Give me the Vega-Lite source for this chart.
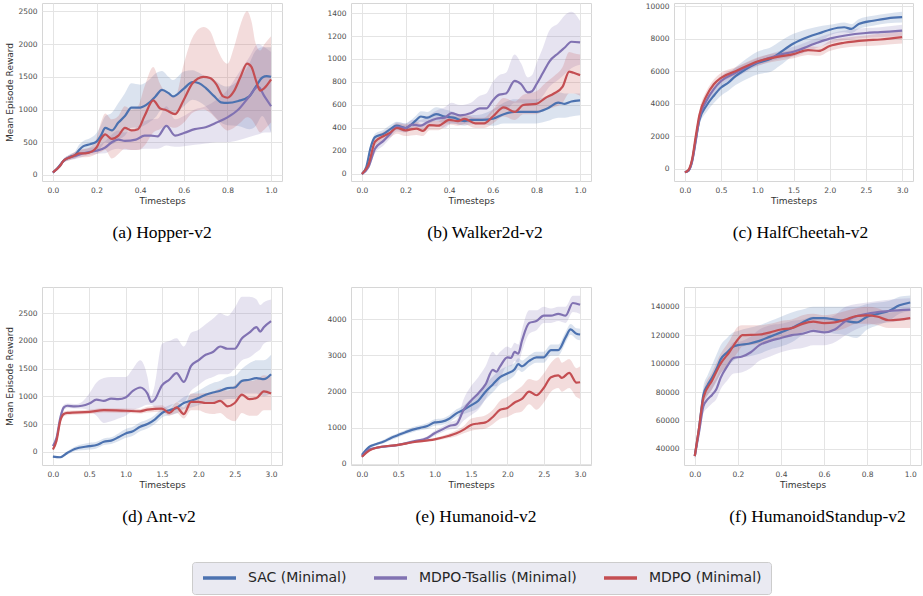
{
"$schema": "https://vega.github.io/schema/vega-lite/v6.json",
"padding": {"left": 5, "top": 1, "right": 0, "bottom": 0},
"datasets": {
"d": [
{"p":"a","a":"SAC (Minimal)","t":0.00,"m":35,"l":25,"h":45},
{"p":"a","a":"SAC (Minimal)","t":0.02,"m":100,"l":80,"h":120},
{"p":"a","a":"SAC (Minimal)","t":0.05,"m":220,"l":190,"h":250},
{"p":"a","a":"SAC (Minimal)","t":0.08,"m":280,"l":240,"h":320},
{"p":"a","a":"SAC (Minimal)","t":0.10,"m":300,"l":250,"h":350},
{"p":"a","a":"SAC (Minimal)","t":0.12,"m":380,"l":300,"h":460},
{"p":"a","a":"SAC (Minimal)","t":0.14,"m":440,"l":340,"h":520},
{"p":"a","a":"SAC (Minimal)","t":0.17,"m":470,"l":360,"h":560},
{"p":"a","a":"SAC (Minimal)","t":0.20,"m":510,"l":370,"h":640},
{"p":"a","a":"SAC (Minimal)","t":0.22,"m":600,"l":420,"h":760},
{"p":"a","a":"SAC (Minimal)","t":0.24,"m":720,"l":500,"h":900},
{"p":"a","a":"SAC (Minimal)","t":0.27,"m":680,"l":470,"h":950},
{"p":"a","a":"SAC (Minimal)","t":0.30,"m":800,"l":540,"h":1100},
{"p":"a","a":"SAC (Minimal)","t":0.33,"m":900,"l":600,"h":1250},
{"p":"a","a":"SAC (Minimal)","t":0.36,"m":1030,"l":720,"h":1400},
{"p":"a","a":"SAC (Minimal)","t":0.40,"m":1030,"l":730,"h":1380},
{"p":"a","a":"SAC (Minimal)","t":0.44,"m":1100,"l":800,"h":1450},
{"p":"a","a":"SAC (Minimal)","t":0.47,"m":1200,"l":880,"h":1550},
{"p":"a","a":"SAC (Minimal)","t":0.50,"m":1300,"l":1000,"h":1590},
{"p":"a","a":"SAC (Minimal)","t":0.53,"m":1250,"l":950,"h":1500},
{"p":"a","a":"SAC (Minimal)","t":0.55,"m":1200,"l":920,"h":1450},
{"p":"a","a":"SAC (Minimal)","t":0.60,"m":1320,"l":1050,"h":1580},
{"p":"a","a":"SAC (Minimal)","t":0.64,"m":1420,"l":1150,"h":1600},
{"p":"a","a":"SAC (Minimal)","t":0.67,"m":1400,"l":1120,"h":1560},
{"p":"a","a":"SAC (Minimal)","t":0.70,"m":1330,"l":1050,"h":1500},
{"p":"a","a":"SAC (Minimal)","t":0.74,"m":1200,"l":900,"h":1450},
{"p":"a","a":"SAC (Minimal)","t":0.77,"m":1110,"l":800,"h":1380},
{"p":"a","a":"SAC (Minimal)","t":0.80,"m":1100,"l":760,"h":1350},
{"p":"a","a":"SAC (Minimal)","t":0.85,"m":1130,"l":750,"h":1450},
{"p":"a","a":"SAC (Minimal)","t":0.90,"m":1200,"l":700,"h":1700},
{"p":"a","a":"SAC (Minimal)","t":0.93,"m":1350,"l":750,"h":1900},
{"p":"a","a":"SAC (Minimal)","t":0.96,"m":1490,"l":900,"h":1950},
{"p":"a","a":"SAC (Minimal)","t":0.98,"m":1510,"l":800,"h":1950},
{"p":"a","a":"SAC (Minimal)","t":1.00,"m":1500,"l":650,"h":1950},
{"p":"a","a":"MDPO-Tsallis (Minimal)","t":0.00,"m":40,"l":30,"h":50},
{"p":"a","a":"MDPO-Tsallis (Minimal)","t":0.03,"m":130,"l":110,"h":150},
{"p":"a","a":"MDPO-Tsallis (Minimal)","t":0.05,"m":220,"l":190,"h":250},
{"p":"a","a":"MDPO-Tsallis (Minimal)","t":0.08,"m":270,"l":230,"h":310},
{"p":"a","a":"MDPO-Tsallis (Minimal)","t":0.10,"m":290,"l":240,"h":340},
{"p":"a","a":"MDPO-Tsallis (Minimal)","t":0.15,"m":340,"l":290,"h":400},
{"p":"a","a":"MDPO-Tsallis (Minimal)","t":0.20,"m":370,"l":320,"h":440},
{"p":"a","a":"MDPO-Tsallis (Minimal)","t":0.24,"m":420,"l":330,"h":520},
{"p":"a","a":"MDPO-Tsallis (Minimal)","t":0.27,"m":500,"l":380,"h":620},
{"p":"a","a":"MDPO-Tsallis (Minimal)","t":0.30,"m":540,"l":400,"h":680},
{"p":"a","a":"MDPO-Tsallis (Minimal)","t":0.33,"m":520,"l":380,"h":650},
{"p":"a","a":"MDPO-Tsallis (Minimal)","t":0.38,"m":540,"l":380,"h":720},
{"p":"a","a":"MDPO-Tsallis (Minimal)","t":0.42,"m":600,"l":400,"h":820},
{"p":"a","a":"MDPO-Tsallis (Minimal)","t":0.45,"m":600,"l":400,"h":850},
{"p":"a","a":"MDPO-Tsallis (Minimal)","t":0.48,"m":590,"l":400,"h":860},
{"p":"a","a":"MDPO-Tsallis (Minimal)","t":0.52,"m":750,"l":450,"h":1050},
{"p":"a","a":"MDPO-Tsallis (Minimal)","t":0.56,"m":600,"l":430,"h":850},
{"p":"a","a":"MDPO-Tsallis (Minimal)","t":0.60,"m":640,"l":440,"h":900},
{"p":"a","a":"MDPO-Tsallis (Minimal)","t":0.65,"m":700,"l":460,"h":1000},
{"p":"a","a":"MDPO-Tsallis (Minimal)","t":0.70,"m":730,"l":480,"h":1050},
{"p":"a","a":"MDPO-Tsallis (Minimal)","t":0.75,"m":800,"l":500,"h":1150},
{"p":"a","a":"MDPO-Tsallis (Minimal)","t":0.80,"m":880,"l":500,"h":1300},
{"p":"a","a":"MDPO-Tsallis (Minimal)","t":0.85,"m":1000,"l":530,"h":1550},
{"p":"a","a":"MDPO-Tsallis (Minimal)","t":0.90,"m":1200,"l":580,"h":1800},
{"p":"a","a":"MDPO-Tsallis (Minimal)","t":0.94,"m":1350,"l":620,"h":2000},
{"p":"a","a":"MDPO-Tsallis (Minimal)","t":0.97,"m":1200,"l":650,"h":1950},
{"p":"a","a":"MDPO-Tsallis (Minimal)","t":1.00,"m":1050,"l":650,"h":1880},
{"p":"a","a":"MDPO (Minimal)","t":0.00,"m":40,"l":30,"h":50},
{"p":"a","a":"MDPO (Minimal)","t":0.03,"m":130,"l":110,"h":150},
{"p":"a","a":"MDPO (Minimal)","t":0.05,"m":220,"l":190,"h":250},
{"p":"a","a":"MDPO (Minimal)","t":0.08,"m":270,"l":230,"h":310},
{"p":"a","a":"MDPO (Minimal)","t":0.10,"m":300,"l":250,"h":350},
{"p":"a","a":"MDPO (Minimal)","t":0.12,"m":330,"l":270,"h":390},
{"p":"a","a":"MDPO (Minimal)","t":0.15,"m":330,"l":270,"h":400},
{"p":"a","a":"MDPO (Minimal)","t":0.18,"m":360,"l":290,"h":450},
{"p":"a","a":"MDPO (Minimal)","t":0.20,"m":420,"l":320,"h":560},
{"p":"a","a":"MDPO (Minimal)","t":0.22,"m":550,"l":350,"h":800},
{"p":"a","a":"MDPO (Minimal)","t":0.24,"m":620,"l":380,"h":940},
{"p":"a","a":"MDPO (Minimal)","t":0.27,"m":550,"l":250,"h":850},
{"p":"a","a":"MDPO (Minimal)","t":0.30,"m":600,"l":320,"h":900},
{"p":"a","a":"MDPO (Minimal)","t":0.33,"m":720,"l":400,"h":1050},
{"p":"a","a":"MDPO (Minimal)","t":0.36,"m":680,"l":380,"h":1000},
{"p":"a","a":"MDPO (Minimal)","t":0.39,"m":700,"l":380,"h":1050},
{"p":"a","a":"MDPO (Minimal)","t":0.42,"m":900,"l":450,"h":1350},
{"p":"a","a":"MDPO (Minimal)","t":0.46,"m":1140,"l":650,"h":1650},
{"p":"a","a":"MDPO (Minimal)","t":0.49,"m":1020,"l":700,"h":1400},
{"p":"a","a":"MDPO (Minimal)","t":0.52,"m":990,"l":750,"h":1250},
{"p":"a","a":"MDPO (Minimal)","t":0.56,"m":930,"l":720,"h":1200},
{"p":"a","a":"MDPO (Minimal)","t":0.60,"m":1150,"l":800,"h":1700},
{"p":"a","a":"MDPO (Minimal)","t":0.64,"m":1400,"l":950,"h":2100},
{"p":"a","a":"MDPO (Minimal)","t":0.69,"m":1500,"l":1000,"h":2260},
{"p":"a","a":"MDPO (Minimal)","t":0.72,"m":1480,"l":950,"h":2200},
{"p":"a","a":"MDPO (Minimal)","t":0.75,"m":1380,"l":850,"h":1950},
{"p":"a","a":"MDPO (Minimal)","t":0.78,"m":1200,"l":720,"h":1750},
{"p":"a","a":"MDPO (Minimal)","t":0.80,"m":1180,"l":680,"h":1700},
{"p":"a","a":"MDPO (Minimal)","t":0.83,"m":1280,"l":720,"h":1950},
{"p":"a","a":"MDPO (Minimal)","t":0.86,"m":1500,"l":800,"h":2300},
{"p":"a","a":"MDPO (Minimal)","t":0.89,"m":1700,"l":880,"h":2500},
{"p":"a","a":"MDPO (Minimal)","t":0.91,"m":1650,"l":850,"h":2350},
{"p":"a","a":"MDPO (Minimal)","t":0.93,"m":1450,"l":750,"h":2000},
{"p":"a","a":"MDPO (Minimal)","t":0.95,"m":1290,"l":650,"h":1900},
{"p":"a","a":"MDPO (Minimal)","t":0.97,"m":1330,"l":700,"h":2000},
{"p":"a","a":"MDPO (Minimal)","t":1.00,"m":1460,"l":800,"h":2120},
{"p":"b","a":"SAC (Minimal)","t":0.00,"m":0,"l":-5,"h":5},
{"p":"b","a":"SAC (Minimal)","t":0.02,"m":60,"l":45,"h":75},
{"p":"b","a":"SAC (Minimal)","t":0.04,"m":230,"l":200,"h":260},
{"p":"b","a":"SAC (Minimal)","t":0.06,"m":320,"l":290,"h":350},
{"p":"b","a":"SAC (Minimal)","t":0.10,"m":350,"l":320,"h":385},
{"p":"b","a":"SAC (Minimal)","t":0.13,"m":390,"l":355,"h":425},
{"p":"b","a":"SAC (Minimal)","t":0.16,"m":420,"l":385,"h":455},
{"p":"b","a":"SAC (Minimal)","t":0.20,"m":400,"l":365,"h":440},
{"p":"b","a":"SAC (Minimal)","t":0.22,"m":420,"l":385,"h":460},
{"p":"b","a":"SAC (Minimal)","t":0.25,"m":470,"l":430,"h":510},
{"p":"b","a":"SAC (Minimal)","t":0.27,"m":500,"l":455,"h":545},
{"p":"b","a":"SAC (Minimal)","t":0.30,"m":490,"l":440,"h":540},
{"p":"b","a":"SAC (Minimal)","t":0.34,"m":520,"l":460,"h":580},
{"p":"b","a":"SAC (Minimal)","t":0.38,"m":500,"l":440,"h":560},
{"p":"b","a":"SAC (Minimal)","t":0.42,"m":490,"l":440,"h":540},
{"p":"b","a":"SAC (Minimal)","t":0.47,"m":460,"l":420,"h":500},
{"p":"b","a":"SAC (Minimal)","t":0.50,"m":470,"l":430,"h":510},
{"p":"b","a":"SAC (Minimal)","t":0.55,"m":470,"l":430,"h":520},
{"p":"b","a":"SAC (Minimal)","t":0.60,"m":480,"l":420,"h":560},
{"p":"b","a":"SAC (Minimal)","t":0.65,"m":520,"l":440,"h":620},
{"p":"b","a":"SAC (Minimal)","t":0.70,"m":540,"l":440,"h":650},
{"p":"b","a":"SAC (Minimal)","t":0.75,"m":540,"l":440,"h":650},
{"p":"b","a":"SAC (Minimal)","t":0.80,"m":540,"l":440,"h":650},
{"p":"b","a":"SAC (Minimal)","t":0.85,"m":570,"l":460,"h":680},
{"p":"b","a":"SAC (Minimal)","t":0.90,"m":620,"l":490,"h":710},
{"p":"b","a":"SAC (Minimal)","t":0.93,"m":610,"l":490,"h":700},
{"p":"b","a":"SAC (Minimal)","t":0.96,"m":630,"l":500,"h":700},
{"p":"b","a":"SAC (Minimal)","t":1.00,"m":640,"l":510,"h":700},
{"p":"b","a":"MDPO-Tsallis (Minimal)","t":0.00,"m":0,"l":-5,"h":5},
{"p":"b","a":"MDPO-Tsallis (Minimal)","t":0.03,"m":60,"l":40,"h":80},
{"p":"b","a":"MDPO-Tsallis (Minimal)","t":0.06,"m":220,"l":180,"h":260},
{"p":"b","a":"MDPO-Tsallis (Minimal)","t":0.10,"m":290,"l":250,"h":330},
{"p":"b","a":"MDPO-Tsallis (Minimal)","t":0.13,"m":350,"l":310,"h":390},
{"p":"b","a":"MDPO-Tsallis (Minimal)","t":0.16,"m":410,"l":370,"h":450},
{"p":"b","a":"MDPO-Tsallis (Minimal)","t":0.20,"m":400,"l":360,"h":440},
{"p":"b","a":"MDPO-Tsallis (Minimal)","t":0.23,"m":430,"l":390,"h":470},
{"p":"b","a":"MDPO-Tsallis (Minimal)","t":0.27,"m":420,"l":380,"h":470},
{"p":"b","a":"MDPO-Tsallis (Minimal)","t":0.30,"m":450,"l":400,"h":500},
{"p":"b","a":"MDPO-Tsallis (Minimal)","t":0.34,"m":480,"l":420,"h":550},
{"p":"b","a":"MDPO-Tsallis (Minimal)","t":0.38,"m":490,"l":400,"h":580},
{"p":"b","a":"MDPO-Tsallis (Minimal)","t":0.41,"m":530,"l":440,"h":620},
{"p":"b","a":"MDPO-Tsallis (Minimal)","t":0.45,"m":510,"l":430,"h":600},
{"p":"b","a":"MDPO-Tsallis (Minimal)","t":0.50,"m":530,"l":450,"h":620},
{"p":"b","a":"MDPO-Tsallis (Minimal)","t":0.54,"m":570,"l":480,"h":680},
{"p":"b","a":"MDPO-Tsallis (Minimal)","t":0.57,"m":570,"l":470,"h":700},
{"p":"b","a":"MDPO-Tsallis (Minimal)","t":0.60,"m":640,"l":540,"h":800},
{"p":"b","a":"MDPO-Tsallis (Minimal)","t":0.63,"m":690,"l":560,"h":860},
{"p":"b","a":"MDPO-Tsallis (Minimal)","t":0.66,"m":700,"l":560,"h":880},
{"p":"b","a":"MDPO-Tsallis (Minimal)","t":0.70,"m":810,"l":620,"h":1040},
{"p":"b","a":"MDPO-Tsallis (Minimal)","t":0.73,"m":780,"l":620,"h":960},
{"p":"b","a":"MDPO-Tsallis (Minimal)","t":0.76,"m":710,"l":590,"h":840},
{"p":"b","a":"MDPO-Tsallis (Minimal)","t":0.78,"m":720,"l":600,"h":860},
{"p":"b","a":"MDPO-Tsallis (Minimal)","t":0.80,"m":780,"l":620,"h":960},
{"p":"b","a":"MDPO-Tsallis (Minimal)","t":0.83,"m":880,"l":680,"h":1100},
{"p":"b","a":"MDPO-Tsallis (Minimal)","t":0.86,"m":980,"l":760,"h":1250},
{"p":"b","a":"MDPO-Tsallis (Minimal)","t":0.90,"m":1050,"l":820,"h":1310},
{"p":"b","a":"MDPO-Tsallis (Minimal)","t":0.93,"m":1100,"l":870,"h":1380},
{"p":"b","a":"MDPO-Tsallis (Minimal)","t":0.96,"m":1150,"l":920,"h":1410},
{"p":"b","a":"MDPO-Tsallis (Minimal)","t":1.00,"m":1145,"l":950,"h":1330},
{"p":"b","a":"MDPO (Minimal)","t":0.00,"m":0,"l":-5,"h":5},
{"p":"b","a":"MDPO (Minimal)","t":0.03,"m":80,"l":60,"h":100},
{"p":"b","a":"MDPO (Minimal)","t":0.06,"m":280,"l":250,"h":310},
{"p":"b","a":"MDPO (Minimal)","t":0.10,"m":330,"l":290,"h":370},
{"p":"b","a":"MDPO (Minimal)","t":0.13,"m":360,"l":320,"h":400},
{"p":"b","a":"MDPO (Minimal)","t":0.16,"m":400,"l":350,"h":440},
{"p":"b","a":"MDPO (Minimal)","t":0.20,"m":380,"l":330,"h":430},
{"p":"b","a":"MDPO (Minimal)","t":0.25,"m":395,"l":340,"h":450},
{"p":"b","a":"MDPO (Minimal)","t":0.28,"m":375,"l":330,"h":430},
{"p":"b","a":"MDPO (Minimal)","t":0.31,"m":425,"l":380,"h":470},
{"p":"b","a":"MDPO (Minimal)","t":0.35,"m":420,"l":380,"h":460},
{"p":"b","a":"MDPO (Minimal)","t":0.40,"m":470,"l":430,"h":510},
{"p":"b","a":"MDPO (Minimal)","t":0.44,"m":460,"l":420,"h":500},
{"p":"b","a":"MDPO (Minimal)","t":0.47,"m":480,"l":430,"h":520},
{"p":"b","a":"MDPO (Minimal)","t":0.52,"m":440,"l":400,"h":490},
{"p":"b","a":"MDPO (Minimal)","t":0.56,"m":440,"l":400,"h":490},
{"p":"b","a":"MDPO (Minimal)","t":0.60,"m":500,"l":440,"h":560},
{"p":"b","a":"MDPO (Minimal)","t":0.65,"m":580,"l":500,"h":660},
{"p":"b","a":"MDPO (Minimal)","t":0.70,"m":540,"l":470,"h":630},
{"p":"b","a":"MDPO (Minimal)","t":0.74,"m":600,"l":520,"h":690},
{"p":"b","a":"MDPO (Minimal)","t":0.80,"m":610,"l":520,"h":720},
{"p":"b","a":"MDPO (Minimal)","t":0.84,"m":660,"l":560,"h":790},
{"p":"b","a":"MDPO (Minimal)","t":0.88,"m":700,"l":580,"h":850},
{"p":"b","a":"MDPO (Minimal)","t":0.92,"m":760,"l":620,"h":930},
{"p":"b","a":"MDPO (Minimal)","t":0.95,"m":890,"l":700,"h":1060},
{"p":"b","a":"MDPO (Minimal)","t":0.97,"m":880,"l":700,"h":1050},
{"p":"b","a":"MDPO (Minimal)","t":1.00,"m":860,"l":680,"h":1040},
{"p":"c","a":"SAC (Minimal)","t":0.00,"m":-200,"l":-250,"h":-150},
{"p":"c","a":"SAC (Minimal)","t":0.05,"m":-100,"l":-180,"h":-20},
{"p":"c","a":"SAC (Minimal)","t":0.10,"m":500,"l":300,"h":700},
{"p":"c","a":"SAC (Minimal)","t":0.15,"m":1800,"l":1500,"h":2100},
{"p":"c","a":"SAC (Minimal)","t":0.20,"m":3000,"l":2700,"h":3300},
{"p":"c","a":"SAC (Minimal)","t":0.30,"m":3900,"l":3500,"h":4300},
{"p":"c","a":"SAC (Minimal)","t":0.40,"m":4500,"l":4050,"h":4950},
{"p":"c","a":"SAC (Minimal)","t":0.50,"m":5000,"l":4500,"h":5500},
{"p":"c","a":"SAC (Minimal)","t":0.60,"m":5300,"l":4800,"h":5800},
{"p":"c","a":"SAC (Minimal)","t":0.70,"m":5700,"l":5150,"h":6250},
{"p":"c","a":"SAC (Minimal)","t":0.80,"m":6000,"l":5400,"h":6600},
{"p":"c","a":"SAC (Minimal)","t":1.00,"m":6500,"l":5800,"h":7200},
{"p":"c","a":"SAC (Minimal)","t":1.20,"m":6800,"l":6000,"h":7500},
{"p":"c","a":"SAC (Minimal)","t":1.30,"m":7100,"l":6300,"h":7800},
{"p":"c","a":"SAC (Minimal)","t":1.50,"m":7700,"l":7000,"h":8300},
{"p":"c","a":"SAC (Minimal)","t":1.70,"m":8100,"l":7500,"h":8600},
{"p":"c","a":"SAC (Minimal)","t":1.90,"m":8400,"l":7900,"h":8800},
{"p":"c","a":"SAC (Minimal)","t":2.00,"m":8550,"l":8200,"h":8850},
{"p":"c","a":"SAC (Minimal)","t":2.20,"m":8700,"l":8400,"h":9000},
{"p":"c","a":"SAC (Minimal)","t":2.30,"m":8600,"l":8350,"h":8900},
{"p":"c","a":"SAC (Minimal)","t":2.40,"m":8900,"l":8600,"h":9200},
{"p":"c","a":"SAC (Minimal)","t":2.60,"m":9100,"l":8800,"h":9400},
{"p":"c","a":"SAC (Minimal)","t":2.80,"m":9250,"l":8950,"h":9550},
{"p":"c","a":"SAC (Minimal)","t":3.00,"m":9320,"l":9000,"h":9650},
{"p":"c","a":"MDPO-Tsallis (Minimal)","t":0.00,"m":-200,"l":-250,"h":-150},
{"p":"c","a":"MDPO-Tsallis (Minimal)","t":0.05,"m":-100,"l":-180,"h":-20},
{"p":"c","a":"MDPO-Tsallis (Minimal)","t":0.10,"m":450,"l":250,"h":650},
{"p":"c","a":"MDPO-Tsallis (Minimal)","t":0.15,"m":1700,"l":1400,"h":2000},
{"p":"c","a":"MDPO-Tsallis (Minimal)","t":0.20,"m":3100,"l":2800,"h":3400},
{"p":"c","a":"MDPO-Tsallis (Minimal)","t":0.30,"m":4200,"l":3900,"h":4500},
{"p":"c","a":"MDPO-Tsallis (Minimal)","t":0.40,"m":4900,"l":4600,"h":5200},
{"p":"c","a":"MDPO-Tsallis (Minimal)","t":0.50,"m":5400,"l":5100,"h":5700},
{"p":"c","a":"MDPO-Tsallis (Minimal)","t":0.70,"m":5900,"l":5600,"h":6200},
{"p":"c","a":"MDPO-Tsallis (Minimal)","t":1.00,"m":6550,"l":6300,"h":6800},
{"p":"c","a":"MDPO-Tsallis (Minimal)","t":1.30,"m":7000,"l":6750,"h":7250},
{"p":"c","a":"MDPO-Tsallis (Minimal)","t":1.50,"m":7200,"l":6900,"h":7500},
{"p":"c","a":"MDPO-Tsallis (Minimal)","t":1.80,"m":7700,"l":7400,"h":8000},
{"p":"c","a":"MDPO-Tsallis (Minimal)","t":2.00,"m":8000,"l":7700,"h":8300},
{"p":"c","a":"MDPO-Tsallis (Minimal)","t":2.50,"m":8350,"l":8050,"h":8650},
{"p":"c","a":"MDPO-Tsallis (Minimal)","t":2.70,"m":8400,"l":8100,"h":8700},
{"p":"c","a":"MDPO-Tsallis (Minimal)","t":3.00,"m":8500,"l":8150,"h":8850},
{"p":"c","a":"MDPO (Minimal)","t":0.00,"m":-200,"l":-250,"h":-150},
{"p":"c","a":"MDPO (Minimal)","t":0.05,"m":-50,"l":-120,"h":20},
{"p":"c","a":"MDPO (Minimal)","t":0.10,"m":600,"l":400,"h":800},
{"p":"c","a":"MDPO (Minimal)","t":0.15,"m":2000,"l":1700,"h":2300},
{"p":"c","a":"MDPO (Minimal)","t":0.20,"m":3300,"l":3000,"h":3600},
{"p":"c","a":"MDPO (Minimal)","t":0.30,"m":4500,"l":4200,"h":4800},
{"p":"c","a":"MDPO (Minimal)","t":0.40,"m":5200,"l":4900,"h":5500},
{"p":"c","a":"MDPO (Minimal)","t":0.50,"m":5600,"l":5300,"h":5900},
{"p":"c","a":"MDPO (Minimal)","t":0.70,"m":6000,"l":5750,"h":6250},
{"p":"c","a":"MDPO (Minimal)","t":1.00,"m":6600,"l":6350,"h":6850},
{"p":"c","a":"MDPO (Minimal)","t":1.30,"m":6900,"l":6650,"h":7150},
{"p":"c","a":"MDPO (Minimal)","t":1.50,"m":7050,"l":6800,"h":7300},
{"p":"c","a":"MDPO (Minimal)","t":1.70,"m":7300,"l":7000,"h":7550},
{"p":"c","a":"MDPO (Minimal)","t":1.85,"m":7250,"l":6950,"h":7500},
{"p":"c","a":"MDPO (Minimal)","t":2.00,"m":7550,"l":7250,"h":7850},
{"p":"c","a":"MDPO (Minimal)","t":2.20,"m":7750,"l":7450,"h":8050},
{"p":"c","a":"MDPO (Minimal)","t":2.50,"m":7900,"l":7550,"h":8200},
{"p":"c","a":"MDPO (Minimal)","t":2.70,"m":7950,"l":7600,"h":8300},
{"p":"c","a":"MDPO (Minimal)","t":3.00,"m":8100,"l":7700,"h":8450},
{"p":"d","a":"SAC (Minimal)","t":0.0,"m":-90,"l":-110,"h":-70},
{"p":"d","a":"SAC (Minimal)","t":0.1,"m":-100,"l":-120,"h":-80},
{"p":"d","a":"SAC (Minimal)","t":0.2,"m":-20,"l":-50,"h":10},
{"p":"d","a":"SAC (Minimal)","t":0.3,"m":50,"l":10,"h":90},
{"p":"d","a":"SAC (Minimal)","t":0.5,"m":100,"l":40,"h":160},
{"p":"d","a":"SAC (Minimal)","t":0.6,"m":120,"l":60,"h":180},
{"p":"d","a":"SAC (Minimal)","t":0.7,"m":180,"l":120,"h":240},
{"p":"d","a":"SAC (Minimal)","t":0.8,"m":200,"l":140,"h":260},
{"p":"d","a":"SAC (Minimal)","t":0.9,"m":260,"l":190,"h":330},
{"p":"d","a":"SAC (Minimal)","t":1.0,"m":330,"l":250,"h":410},
{"p":"d","a":"SAC (Minimal)","t":1.1,"m":370,"l":290,"h":450},
{"p":"d","a":"SAC (Minimal)","t":1.2,"m":450,"l":370,"h":530},
{"p":"d","a":"SAC (Minimal)","t":1.3,"m":500,"l":420,"h":580},
{"p":"d","a":"SAC (Minimal)","t":1.4,"m":580,"l":500,"h":660},
{"p":"d","a":"SAC (Minimal)","t":1.5,"m":700,"l":620,"h":780},
{"p":"d","a":"SAC (Minimal)","t":1.6,"m":750,"l":660,"h":840},
{"p":"d","a":"SAC (Minimal)","t":1.7,"m":790,"l":690,"h":890},
{"p":"d","a":"SAC (Minimal)","t":1.8,"m":880,"l":770,"h":990},
{"p":"d","a":"SAC (Minimal)","t":1.9,"m":920,"l":800,"h":1040},
{"p":"d","a":"SAC (Minimal)","t":2.0,"m":970,"l":840,"h":1100},
{"p":"d","a":"SAC (Minimal)","t":2.1,"m":1030,"l":880,"h":1180},
{"p":"d","a":"SAC (Minimal)","t":2.2,"m":1070,"l":900,"h":1240},
{"p":"d","a":"SAC (Minimal)","t":2.3,"m":1100,"l":920,"h":1280},
{"p":"d","a":"SAC (Minimal)","t":2.4,"m":1150,"l":950,"h":1350},
{"p":"d","a":"SAC (Minimal)","t":2.5,"m":1160,"l":950,"h":1370},
{"p":"d","a":"SAC (Minimal)","t":2.6,"m":1280,"l":1050,"h":1500},
{"p":"d","a":"SAC (Minimal)","t":2.7,"m":1300,"l":1050,"h":1600},
{"p":"d","a":"SAC (Minimal)","t":2.8,"m":1330,"l":1050,"h":1650},
{"p":"d","a":"SAC (Minimal)","t":2.9,"m":1310,"l":1000,"h":1650},
{"p":"d","a":"SAC (Minimal)","t":3.0,"m":1400,"l":1050,"h":1750},
{"p":"d","a":"MDPO-Tsallis (Minimal)","t":0.00,"m":100,"l":70,"h":130},
{"p":"d","a":"MDPO-Tsallis (Minimal)","t":0.05,"m":250,"l":200,"h":300},
{"p":"d","a":"MDPO-Tsallis (Minimal)","t":0.10,"m":600,"l":520,"h":680},
{"p":"d","a":"MDPO-Tsallis (Minimal)","t":0.15,"m":800,"l":750,"h":850},
{"p":"d","a":"MDPO-Tsallis (Minimal)","t":0.20,"m":830,"l":790,"h":870},
{"p":"d","a":"MDPO-Tsallis (Minimal)","t":0.30,"m":820,"l":780,"h":860},
{"p":"d","a":"MDPO-Tsallis (Minimal)","t":0.40,"m":830,"l":780,"h":900},
{"p":"d","a":"MDPO-Tsallis (Minimal)","t":0.50,"m":870,"l":750,"h":1050},
{"p":"d","a":"MDPO-Tsallis (Minimal)","t":0.60,"m":940,"l":650,"h":1250},
{"p":"d","a":"MDPO-Tsallis (Minimal)","t":0.70,"m":920,"l":520,"h":1330},
{"p":"d","a":"MDPO-Tsallis (Minimal)","t":0.80,"m":960,"l":550,"h":1350},
{"p":"d","a":"MDPO-Tsallis (Minimal)","t":0.90,"m":950,"l":600,"h":1350},
{"p":"d","a":"MDPO-Tsallis (Minimal)","t":1.00,"m":980,"l":650,"h":1350},
{"p":"d","a":"MDPO-Tsallis (Minimal)","t":1.10,"m":1100,"l":750,"h":1500},
{"p":"d","a":"MDPO-Tsallis (Minimal)","t":1.20,"m":1160,"l":800,"h":1650},
{"p":"d","a":"MDPO-Tsallis (Minimal)","t":1.30,"m":1050,"l":850,"h":1350},
{"p":"d","a":"MDPO-Tsallis (Minimal)","t":1.35,"m":900,"l":850,"h":1000},
{"p":"d","a":"MDPO-Tsallis (Minimal)","t":1.40,"m":940,"l":800,"h":1200},
{"p":"d","a":"MDPO-Tsallis (Minimal)","t":1.50,"m":1200,"l":750,"h":1950},
{"p":"d","a":"MDPO-Tsallis (Minimal)","t":1.60,"m":1300,"l":800,"h":2000},
{"p":"d","a":"MDPO-Tsallis (Minimal)","t":1.70,"m":1420,"l":900,"h":2050},
{"p":"d","a":"MDPO-Tsallis (Minimal)","t":1.80,"m":1260,"l":900,"h":1900},
{"p":"d","a":"MDPO-Tsallis (Minimal)","t":1.90,"m":1550,"l":1100,"h":2150},
{"p":"d","a":"MDPO-Tsallis (Minimal)","t":2.00,"m":1650,"l":1200,"h":2200},
{"p":"d","a":"MDPO-Tsallis (Minimal)","t":2.10,"m":1750,"l":1300,"h":2300},
{"p":"d","a":"MDPO-Tsallis (Minimal)","t":2.20,"m":1800,"l":1350,"h":2400},
{"p":"d","a":"MDPO-Tsallis (Minimal)","t":2.30,"m":1900,"l":1400,"h":2500},
{"p":"d","a":"MDPO-Tsallis (Minimal)","t":2.40,"m":1860,"l":1400,"h":2450},
{"p":"d","a":"MDPO-Tsallis (Minimal)","t":2.50,"m":1860,"l":1500,"h":2600},
{"p":"d","a":"MDPO-Tsallis (Minimal)","t":2.60,"m":2050,"l":1650,"h":2800},
{"p":"d","a":"MDPO-Tsallis (Minimal)","t":2.70,"m":2150,"l":1700,"h":2800},
{"p":"d","a":"MDPO-Tsallis (Minimal)","t":2.80,"m":2250,"l":1800,"h":2750},
{"p":"d","a":"MDPO-Tsallis (Minimal)","t":2.85,"m":2170,"l":1850,"h":2650},
{"p":"d","a":"MDPO-Tsallis (Minimal)","t":2.90,"m":2250,"l":1950,"h":2700},
{"p":"d","a":"MDPO-Tsallis (Minimal)","t":3.00,"m":2360,"l":2000,"h":2750},
{"p":"d","a":"MDPO (Minimal)","t":0.00,"m":40,"l":20,"h":60},
{"p":"d","a":"MDPO (Minimal)","t":0.05,"m":200,"l":170,"h":230},
{"p":"d","a":"MDPO (Minimal)","t":0.10,"m":550,"l":500,"h":600},
{"p":"d","a":"MDPO (Minimal)","t":0.15,"m":680,"l":640,"h":720},
{"p":"d","a":"MDPO (Minimal)","t":0.20,"m":700,"l":660,"h":740},
{"p":"d","a":"MDPO (Minimal)","t":0.50,"m":720,"l":680,"h":760},
{"p":"d","a":"MDPO (Minimal)","t":0.70,"m":750,"l":710,"h":790},
{"p":"d","a":"MDPO (Minimal)","t":1.00,"m":740,"l":700,"h":780},
{"p":"d","a":"MDPO (Minimal)","t":1.20,"m":730,"l":690,"h":770},
{"p":"d","a":"MDPO (Minimal)","t":1.30,"m":760,"l":710,"h":810},
{"p":"d","a":"MDPO (Minimal)","t":1.50,"m":780,"l":720,"h":840},
{"p":"d","a":"MDPO (Minimal)","t":1.60,"m":700,"l":650,"h":760},
{"p":"d","a":"MDPO (Minimal)","t":1.70,"m":800,"l":700,"h":900},
{"p":"d","a":"MDPO (Minimal)","t":1.80,"m":680,"l":600,"h":800},
{"p":"d","a":"MDPO (Minimal)","t":1.90,"m":900,"l":750,"h":1050},
{"p":"d","a":"MDPO (Minimal)","t":2.00,"m":900,"l":750,"h":1050},
{"p":"d","a":"MDPO (Minimal)","t":2.10,"m":880,"l":700,"h":1060},
{"p":"d","a":"MDPO (Minimal)","t":2.20,"m":880,"l":680,"h":1080},
{"p":"d","a":"MDPO (Minimal)","t":2.30,"m":920,"l":700,"h":1140},
{"p":"d","a":"MDPO (Minimal)","t":2.40,"m":820,"l":600,"h":1100},
{"p":"d","a":"MDPO (Minimal)","t":2.50,"m":880,"l":550,"h":1200},
{"p":"d","a":"MDPO (Minimal)","t":2.60,"m":1030,"l":700,"h":1300},
{"p":"d","a":"MDPO (Minimal)","t":2.70,"m":950,"l":650,"h":1280},
{"p":"d","a":"MDPO (Minimal)","t":2.80,"m":970,"l":650,"h":1300},
{"p":"d","a":"MDPO (Minimal)","t":2.90,"m":1090,"l":750,"h":1380},
{"p":"d","a":"MDPO (Minimal)","t":3.00,"m":1050,"l":750,"h":1350},
{"p":"e","a":"SAC (Minimal)","t":0.0,"m":250,"l":220,"h":280},
{"p":"e","a":"SAC (Minimal)","t":0.1,"m":470,"l":430,"h":510},
{"p":"e","a":"SAC (Minimal)","t":0.2,"m":550,"l":510,"h":590},
{"p":"e","a":"SAC (Minimal)","t":0.3,"m":620,"l":570,"h":670},
{"p":"e","a":"SAC (Minimal)","t":0.4,"m":720,"l":660,"h":780},
{"p":"e","a":"SAC (Minimal)","t":0.5,"m":800,"l":740,"h":860},
{"p":"e","a":"SAC (Minimal)","t":0.6,"m":880,"l":820,"h":940},
{"p":"e","a":"SAC (Minimal)","t":0.7,"m":950,"l":880,"h":1020},
{"p":"e","a":"SAC (Minimal)","t":0.8,"m":1000,"l":930,"h":1070},
{"p":"e","a":"SAC (Minimal)","t":0.9,"m":1050,"l":970,"h":1130},
{"p":"e","a":"SAC (Minimal)","t":1.0,"m":1150,"l":1060,"h":1240},
{"p":"e","a":"SAC (Minimal)","t":1.1,"m":1170,"l":1080,"h":1260},
{"p":"e","a":"SAC (Minimal)","t":1.2,"m":1250,"l":1150,"h":1350},
{"p":"e","a":"SAC (Minimal)","t":1.3,"m":1400,"l":1290,"h":1510},
{"p":"e","a":"SAC (Minimal)","t":1.4,"m":1500,"l":1380,"h":1620},
{"p":"e","a":"SAC (Minimal)","t":1.5,"m":1620,"l":1450,"h":1800},
{"p":"e","a":"SAC (Minimal)","t":1.6,"m":1750,"l":1550,"h":1950},
{"p":"e","a":"SAC (Minimal)","t":1.7,"m":2000,"l":1780,"h":2220},
{"p":"e","a":"SAC (Minimal)","t":1.8,"m":2200,"l":1980,"h":2420},
{"p":"e","a":"SAC (Minimal)","t":1.9,"m":2400,"l":2200,"h":2600},
{"p":"e","a":"SAC (Minimal)","t":2.0,"m":2500,"l":2300,"h":2700},
{"p":"e","a":"SAC (Minimal)","t":2.1,"m":2620,"l":2450,"h":2800},
{"p":"e","a":"SAC (Minimal)","t":2.15,"m":2760,"l":2600,"h":2920},
{"p":"e","a":"SAC (Minimal)","t":2.2,"m":2700,"l":2540,"h":2860},
{"p":"e","a":"SAC (Minimal)","t":2.3,"m":2850,"l":2700,"h":3000},
{"p":"e","a":"SAC (Minimal)","t":2.4,"m":2950,"l":2800,"h":3100},
{"p":"e","a":"SAC (Minimal)","t":2.5,"m":2950,"l":2800,"h":3100},
{"p":"e","a":"SAC (Minimal)","t":2.6,"m":3150,"l":3000,"h":3300},
{"p":"e","a":"SAC (Minimal)","t":2.7,"m":3150,"l":3000,"h":3300},
{"p":"e","a":"SAC (Minimal)","t":2.8,"m":3500,"l":3350,"h":3650},
{"p":"e","a":"SAC (Minimal)","t":2.87,"m":3720,"l":3570,"h":3870},
{"p":"e","a":"SAC (Minimal)","t":2.95,"m":3600,"l":3450,"h":3750},
{"p":"e","a":"SAC (Minimal)","t":3.0,"m":3580,"l":3420,"h":3740},
{"p":"e","a":"MDPO-Tsallis (Minimal)","t":0.0,"m":200,"l":180,"h":220},
{"p":"e","a":"MDPO-Tsallis (Minimal)","t":0.1,"m":400,"l":370,"h":430},
{"p":"e","a":"MDPO-Tsallis (Minimal)","t":0.2,"m":450,"l":420,"h":480},
{"p":"e","a":"MDPO-Tsallis (Minimal)","t":0.5,"m":530,"l":500,"h":560},
{"p":"e","a":"MDPO-Tsallis (Minimal)","t":0.7,"m":620,"l":580,"h":660},
{"p":"e","a":"MDPO-Tsallis (Minimal)","t":0.9,"m":720,"l":670,"h":770},
{"p":"e","a":"MDPO-Tsallis (Minimal)","t":1.0,"m":850,"l":780,"h":920},
{"p":"e","a":"MDPO-Tsallis (Minimal)","t":1.1,"m":950,"l":870,"h":1030},
{"p":"e","a":"MDPO-Tsallis (Minimal)","t":1.2,"m":1050,"l":950,"h":1150},
{"p":"e","a":"MDPO-Tsallis (Minimal)","t":1.3,"m":1100,"l":980,"h":1220},
{"p":"e","a":"MDPO-Tsallis (Minimal)","t":1.4,"m":1500,"l":1200,"h":1800},
{"p":"e","a":"MDPO-Tsallis (Minimal)","t":1.5,"m":1750,"l":1350,"h":2150},
{"p":"e","a":"MDPO-Tsallis (Minimal)","t":1.6,"m":1950,"l":1500,"h":2400},
{"p":"e","a":"MDPO-Tsallis (Minimal)","t":1.7,"m":2200,"l":1800,"h":2700},
{"p":"e","a":"MDPO-Tsallis (Minimal)","t":1.8,"m":2600,"l":2150,"h":3100},
{"p":"e","a":"MDPO-Tsallis (Minimal)","t":1.85,"m":2550,"l":2150,"h":3000},
{"p":"e","a":"MDPO-Tsallis (Minimal)","t":1.9,"m":2700,"l":2350,"h":3100},
{"p":"e","a":"MDPO-Tsallis (Minimal)","t":2.0,"m":2950,"l":2700,"h":3250},
{"p":"e","a":"MDPO-Tsallis (Minimal)","t":2.05,"m":2930,"l":2700,"h":3200},
{"p":"e","a":"MDPO-Tsallis (Minimal)","t":2.1,"m":3100,"l":2850,"h":3350},
{"p":"e","a":"MDPO-Tsallis (Minimal)","t":2.15,"m":3050,"l":2800,"h":3300},
{"p":"e","a":"MDPO-Tsallis (Minimal)","t":2.2,"m":3400,"l":3100,"h":3700},
{"p":"e","a":"MDPO-Tsallis (Minimal)","t":2.3,"m":3900,"l":3600,"h":4250},
{"p":"e","a":"MDPO-Tsallis (Minimal)","t":2.4,"m":3950,"l":3700,"h":4250},
{"p":"e","a":"MDPO-Tsallis (Minimal)","t":2.5,"m":4100,"l":3900,"h":4350},
{"p":"e","a":"MDPO-Tsallis (Minimal)","t":2.6,"m":4100,"l":3900,"h":4300},
{"p":"e","a":"MDPO-Tsallis (Minimal)","t":2.7,"m":4150,"l":3950,"h":4350},
{"p":"e","a":"MDPO-Tsallis (Minimal)","t":2.8,"m":4100,"l":3900,"h":4350},
{"p":"e","a":"MDPO-Tsallis (Minimal)","t":2.9,"m":4450,"l":4200,"h":4650},
{"p":"e","a":"MDPO-Tsallis (Minimal)","t":3.0,"m":4400,"l":4150,"h":4650},
{"p":"e","a":"MDPO (Minimal)","t":0.0,"m":200,"l":180,"h":220},
{"p":"e","a":"MDPO (Minimal)","t":0.1,"m":370,"l":340,"h":400},
{"p":"e","a":"MDPO (Minimal)","t":0.2,"m":450,"l":420,"h":480},
{"p":"e","a":"MDPO (Minimal)","t":0.5,"m":530,"l":500,"h":560},
{"p":"e","a":"MDPO (Minimal)","t":0.7,"m":600,"l":570,"h":630},
{"p":"e","a":"MDPO (Minimal)","t":1.0,"m":680,"l":640,"h":720},
{"p":"e","a":"MDPO (Minimal)","t":1.2,"m":780,"l":720,"h":840},
{"p":"e","a":"MDPO (Minimal)","t":1.3,"m":850,"l":770,"h":930},
{"p":"e","a":"MDPO (Minimal)","t":1.4,"m":950,"l":850,"h":1050},
{"p":"e","a":"MDPO (Minimal)","t":1.5,"m":1080,"l":920,"h":1250},
{"p":"e","a":"MDPO (Minimal)","t":1.6,"m":1120,"l":950,"h":1300},
{"p":"e","a":"MDPO (Minimal)","t":1.7,"m":1150,"l":980,"h":1350},
{"p":"e","a":"MDPO (Minimal)","t":1.8,"m":1300,"l":1100,"h":1500},
{"p":"e","a":"MDPO (Minimal)","t":1.9,"m":1500,"l":1250,"h":1750},
{"p":"e","a":"MDPO (Minimal)","t":2.0,"m":1550,"l":1300,"h":1850},
{"p":"e","a":"MDPO (Minimal)","t":2.1,"m":1700,"l":1400,"h":2000},
{"p":"e","a":"MDPO (Minimal)","t":2.2,"m":1800,"l":1450,"h":2150},
{"p":"e","a":"MDPO (Minimal)","t":2.3,"m":2000,"l":1650,"h":2350},
{"p":"e","a":"MDPO (Minimal)","t":2.4,"m":1900,"l":1500,"h":2300},
{"p":"e","a":"MDPO (Minimal)","t":2.5,"m":2100,"l":1700,"h":2500},
{"p":"e","a":"MDPO (Minimal)","t":2.6,"m":2400,"l":2000,"h":2800},
{"p":"e","a":"MDPO (Minimal)","t":2.7,"m":2450,"l":2100,"h":2950},
{"p":"e","a":"MDPO (Minimal)","t":2.75,"m":2380,"l":2000,"h":2800},
{"p":"e","a":"MDPO (Minimal)","t":2.85,"m":2520,"l":2100,"h":2900},
{"p":"e","a":"MDPO (Minimal)","t":2.95,"m":2250,"l":1850,"h":2650},
{"p":"e","a":"MDPO (Minimal)","t":3.0,"m":2260,"l":1800,"h":2700},
{"p":"f","a":"SAC (Minimal)","t":0.00,"m":35000,"l":33000,"h":37000},
{"p":"f","a":"SAC (Minimal)","t":0.02,"m":55000,"l":50000,"h":60000},
{"p":"f","a":"SAC (Minimal)","t":0.04,"m":78000,"l":72000,"h":84000},
{"p":"f","a":"SAC (Minimal)","t":0.06,"m":85000,"l":78000,"h":92000},
{"p":"f","a":"SAC (Minimal)","t":0.08,"m":90000,"l":82000,"h":99000},
{"p":"f","a":"SAC (Minimal)","t":0.10,"m":96000,"l":87000,"h":106000},
{"p":"f","a":"SAC (Minimal)","t":0.12,"m":103000,"l":93000,"h":113000},
{"p":"f","a":"SAC (Minimal)","t":0.15,"m":108000,"l":98000,"h":118000},
{"p":"f","a":"SAC (Minimal)","t":0.18,"m":112000,"l":102000,"h":122000},
{"p":"f","a":"SAC (Minimal)","t":0.20,"m":113000,"l":104000,"h":123000},
{"p":"f","a":"SAC (Minimal)","t":0.25,"m":114000,"l":105000,"h":125000},
{"p":"f","a":"SAC (Minimal)","t":0.30,"m":116000,"l":107000,"h":127000},
{"p":"f","a":"SAC (Minimal)","t":0.35,"m":119000,"l":110000,"h":130000},
{"p":"f","a":"SAC (Minimal)","t":0.40,"m":122000,"l":112000,"h":133000},
{"p":"f","a":"SAC (Minimal)","t":0.45,"m":125000,"l":115000,"h":136000},
{"p":"f","a":"SAC (Minimal)","t":0.50,"m":129000,"l":120000,"h":138000},
{"p":"f","a":"SAC (Minimal)","t":0.55,"m":132000,"l":122000,"h":140000},
{"p":"f","a":"SAC (Minimal)","t":0.60,"m":132000,"l":122000,"h":140000},
{"p":"f","a":"SAC (Minimal)","t":0.65,"m":131000,"l":121000,"h":140000},
{"p":"f","a":"SAC (Minimal)","t":0.70,"m":130000,"l":120000,"h":140000},
{"p":"f","a":"SAC (Minimal)","t":0.75,"m":129000,"l":118000,"h":140000},
{"p":"f","a":"SAC (Minimal)","t":0.80,"m":133000,"l":124000,"h":142000},
{"p":"f","a":"SAC (Minimal)","t":0.85,"m":135000,"l":127000,"h":143000},
{"p":"f","a":"SAC (Minimal)","t":0.90,"m":137000,"l":130000,"h":144000},
{"p":"f","a":"SAC (Minimal)","t":0.95,"m":141000,"l":135000,"h":147000},
{"p":"f","a":"SAC (Minimal)","t":1.00,"m":143000,"l":137000,"h":148000},
{"p":"f","a":"MDPO-Tsallis (Minimal)","t":0.00,"m":35000,"l":33000,"h":37000},
{"p":"f","a":"MDPO-Tsallis (Minimal)","t":0.02,"m":52000,"l":48000,"h":56000},
{"p":"f","a":"MDPO-Tsallis (Minimal)","t":0.04,"m":70000,"l":65000,"h":76000},
{"p":"f","a":"MDPO-Tsallis (Minimal)","t":0.06,"m":75000,"l":69000,"h":82000},
{"p":"f","a":"MDPO-Tsallis (Minimal)","t":0.08,"m":78000,"l":72000,"h":86000},
{"p":"f","a":"MDPO-Tsallis (Minimal)","t":0.10,"m":82000,"l":75000,"h":90000},
{"p":"f","a":"MDPO-Tsallis (Minimal)","t":0.12,"m":90000,"l":82000,"h":98000},
{"p":"f","a":"MDPO-Tsallis (Minimal)","t":0.15,"m":98000,"l":88000,"h":108000},
{"p":"f","a":"MDPO-Tsallis (Minimal)","t":0.18,"m":104000,"l":93000,"h":115000},
{"p":"f","a":"MDPO-Tsallis (Minimal)","t":0.22,"m":105000,"l":94000,"h":116000},
{"p":"f","a":"MDPO-Tsallis (Minimal)","t":0.26,"m":108000,"l":97000,"h":119000},
{"p":"f","a":"MDPO-Tsallis (Minimal)","t":0.30,"m":113000,"l":102000,"h":124000},
{"p":"f","a":"MDPO-Tsallis (Minimal)","t":0.35,"m":116000,"l":105000,"h":127000},
{"p":"f","a":"MDPO-Tsallis (Minimal)","t":0.40,"m":118000,"l":108000,"h":128000},
{"p":"f","a":"MDPO-Tsallis (Minimal)","t":0.45,"m":120000,"l":110000,"h":130000},
{"p":"f","a":"MDPO-Tsallis (Minimal)","t":0.50,"m":121000,"l":111000,"h":131000},
{"p":"f","a":"MDPO-Tsallis (Minimal)","t":0.55,"m":123000,"l":113000,"h":133000},
{"p":"f","a":"MDPO-Tsallis (Minimal)","t":0.60,"m":122000,"l":113000,"h":132000},
{"p":"f","a":"MDPO-Tsallis (Minimal)","t":0.65,"m":124000,"l":115000,"h":134000},
{"p":"f","a":"MDPO-Tsallis (Minimal)","t":0.70,"m":130000,"l":120000,"h":140000},
{"p":"f","a":"MDPO-Tsallis (Minimal)","t":0.80,"m":135000,"l":127000,"h":143000},
{"p":"f","a":"MDPO-Tsallis (Minimal)","t":0.90,"m":137000,"l":129000,"h":145000},
{"p":"f","a":"MDPO-Tsallis (Minimal)","t":1.00,"m":138000,"l":131000,"h":146000},
{"p":"f","a":"MDPO (Minimal)","t":0.00,"m":35000,"l":33000,"h":37000},
{"p":"f","a":"MDPO (Minimal)","t":0.02,"m":55000,"l":51000,"h":59000},
{"p":"f","a":"MDPO (Minimal)","t":0.04,"m":76000,"l":71000,"h":81000},
{"p":"f","a":"MDPO (Minimal)","t":0.08,"m":88000,"l":82000,"h":94000},
{"p":"f","a":"MDPO (Minimal)","t":0.12,"m":100000,"l":93000,"h":107000},
{"p":"f","a":"MDPO (Minimal)","t":0.16,"m":108000,"l":100000,"h":116000},
{"p":"f","a":"MDPO (Minimal)","t":0.20,"m":117000,"l":108000,"h":126000},
{"p":"f","a":"MDPO (Minimal)","t":0.22,"m":120000,"l":112000,"h":127000},
{"p":"f","a":"MDPO (Minimal)","t":0.30,"m":120500,"l":114000,"h":127000},
{"p":"f","a":"MDPO (Minimal)","t":0.35,"m":122000,"l":116000,"h":128000},
{"p":"f","a":"MDPO (Minimal)","t":0.40,"m":124000,"l":118000,"h":130000},
{"p":"f","a":"MDPO (Minimal)","t":0.45,"m":125000,"l":119000,"h":131000},
{"p":"f","a":"MDPO (Minimal)","t":0.50,"m":128000,"l":122000,"h":134000},
{"p":"f","a":"MDPO (Minimal)","t":0.55,"m":129500,"l":124000,"h":135000},
{"p":"f","a":"MDPO (Minimal)","t":0.60,"m":128500,"l":123000,"h":134000},
{"p":"f","a":"MDPO (Minimal)","t":0.65,"m":129000,"l":123000,"h":135000},
{"p":"f","a":"MDPO (Minimal)","t":0.70,"m":131000,"l":125000,"h":137000},
{"p":"f","a":"MDPO (Minimal)","t":0.75,"m":133500,"l":128000,"h":139000},
{"p":"f","a":"MDPO (Minimal)","t":0.80,"m":134000,"l":128000,"h":140000},
{"p":"f","a":"MDPO (Minimal)","t":0.85,"m":133000,"l":127000,"h":139000},
{"p":"f","a":"MDPO (Minimal)","t":0.90,"m":130500,"l":125000,"h":136000},
{"p":"f","a":"MDPO (Minimal)","t":0.95,"m":131000,"l":125000,"h":137000},
{"p":"f","a":"MDPO (Minimal)","t":1.00,"m":132000,"l":125000,"h":138000}
]
},
"data": {"name": "d"},
"spacing": 44,
"vconcat": [
{
"spacing": 69,
"bounds": "flush",
"hconcat": [
{
"width": 240, "height": 178,
"title": {"text": "(a) Hopper-v2"},
"transform": [{"filter": "datum.p == 'a'"}],
"encoding": {"x": {"field": "t", "type": "quantitative", "scale": {"domain": [-0.05, 1.05], "nice": false, "zero": false}, "axis": {"title": "Timesteps", "values": [0, 0.2, 0.4, 0.6, 0.8, 1.0], "format": ".1f"}}},
"layer": [
{"mark": {"type": "area", "interpolate": "monotone", "fillOpacity": 0.2, "clip": true},
 "encoding": {"y": {"field": "l", "type": "quantitative", "scale": {"domain": [-92, 2627], "nice": false, "zero": false}, "axis": {"title": "Mean Episode Reward", "values": [0, 500, 1000, 1500, 2000, 2500], "format": "d"}}, "y2": {"field": "h"}, "fill": {"field": "a", "type": "nominal", "scale": {"range": ["#c44e52", "#8172b2", "#4c72b0"]}, "legend": null}}},
{"mark": {"type": "line", "interpolate": "monotone", "strokeWidth": 2.2, "clip": true},
 "encoding": {"y": {"field": "m", "type": "quantitative", "axis": {"title": "Mean Episode Reward", "values": [0, 500, 1000, 1500, 2000, 2500], "format": "d"}}, "color": {"field": "a", "type": "nominal", "scale": {"domain": ["SAC (Minimal)", "MDPO-Tsallis (Minimal)", "MDPO (Minimal)"], "range": ["#4c72b0", "#8172b2", "#c44e52"]}, "legend": {"title": null, "orient": "none", "legendX": 150, "legendY": 559, "direction": "horizontal"}}}}
]
},
{
"spacing": 83,
"bounds": "flush",
"hconcat": [
{
"width": 240, "height": 178,
"title": {"text": "(b) Walker2d-v2", "dx": 14},
"transform": [{"filter": "datum.p == 'b'"}],
"encoding": {"x": {"field": "t", "type": "quantitative", "scale": {"domain": [-0.05, 1.05], "nice": false, "zero": false}, "axis": {"title": "Timesteps", "values": [0, 0.2, 0.4, 0.6, 0.8, 1.0], "format": ".1f"}}},
"layer": [
{"mark": {"type": "area", "interpolate": "monotone", "fillOpacity": 0.2, "clip": true},
 "encoding": {"y": {"field": "l", "type": "quantitative", "scale": {"domain": [-61, 1487], "nice": false, "zero": false}, "axis": {"title": null, "values": [0, 200, 400, 600, 800, 1000, 1200, 1400], "format": "d"}}, "y2": {"field": "h"}, "fill": {"field": "a", "type": "nominal", "scale": {"range": ["#c44e52", "#8172b2", "#4c72b0"]}, "legend": null}}},
{"mark": {"type": "line", "interpolate": "monotone", "strokeWidth": 2.2, "clip": true},
 "encoding": {"y": {"field": "m", "type": "quantitative", "axis": {"title": null, "values": [0, 200, 400, 600, 800, 1000, 1200, 1400], "format": "d"}}, "color": {"field": "a", "type": "nominal", "scale": {"domain": ["SAC (Minimal)", "MDPO-Tsallis (Minimal)", "MDPO (Minimal)"], "range": ["#4c72b0", "#8172b2", "#c44e52"]}, "legend": {"title": null, "orient": "none", "legendX": 150, "legendY": 559, "direction": "horizontal"}}}}
]
},
{
"width": 239, "height": 178,
"title": {"text": "(c) HalfCheetah-v2", "dx": 7},
"transform": [{"filter": "datum.p == 'c'"}],
"encoding": {"x": {"field": "t", "type": "quantitative", "scale": {"domain": [-0.15, 3.15], "nice": false, "zero": false}, "axis": {"title": "Timesteps", "values": [0, 0.5, 1.0, 1.5, 2.0, 2.5, 3.0], "format": ".1f"}}},
"layer": [
{"mark": {"type": "area", "interpolate": "monotone", "fillOpacity": 0.2, "clip": true},
 "encoding": {"y": {"field": "l", "type": "quantitative", "scale": {"domain": [-737, 10190], "nice": false, "zero": false}, "axis": {"title": null, "values": [0, 2000, 4000, 6000, 8000, 10000], "format": "d"}}, "y2": {"field": "h"}, "fill": {"field": "a", "type": "nominal", "scale": {"range": ["#c44e52", "#8172b2", "#4c72b0"]}, "legend": null}}},
{"mark": {"type": "line", "interpolate": "monotone", "strokeWidth": 2.2, "clip": true},
 "encoding": {"y": {"field": "m", "type": "quantitative", "axis": {"title": null, "values": [0, 2000, 4000, 6000, 8000, 10000], "format": "d"}}, "color": {"field": "a", "type": "nominal", "scale": {"domain": ["SAC (Minimal)", "MDPO-Tsallis (Minimal)", "MDPO (Minimal)"], "range": ["#4c72b0", "#8172b2", "#c44e52"]}, "legend": {"title": null, "orient": "none", "legendX": 150, "legendY": 559, "direction": "horizontal"}}}}
]
}
]
}
]
},
{
"spacing": 69,
"bounds": "flush",
"hconcat": [
{
"width": 240, "height": 178,
"title": {"text": "(d) Ant-v2", "dx": -3},
"transform": [{"filter": "datum.p == 'd'"}],
"encoding": {"x": {"field": "t", "type": "quantitative", "scale": {"domain": [-0.15, 3.15], "nice": false, "zero": false}, "axis": {"title": "Timesteps", "values": [0, 0.5, 1.0, 1.5, 2.0, 2.5, 3.0], "format": ".1f"}}},
"layer": [
{"mark": {"type": "area", "interpolate": "monotone", "fillOpacity": 0.2, "clip": true},
 "encoding": {"y": {"field": "l", "type": "quantitative", "scale": {"domain": [-240, 2975], "nice": false, "zero": false}, "axis": {"title": "Mean Episode Reward", "values": [0, 500, 1000, 1500, 2000, 2500], "format": "d"}}, "y2": {"field": "h"}, "fill": {"field": "a", "type": "nominal", "scale": {"range": ["#c44e52", "#8172b2", "#4c72b0"]}, "legend": null}}},
{"mark": {"type": "line", "interpolate": "monotone", "strokeWidth": 2.2, "clip": true},
 "encoding": {"y": {"field": "m", "type": "quantitative", "axis": {"title": "Mean Episode Reward", "values": [0, 500, 1000, 1500, 2000, 2500], "format": "d"}}, "color": {"field": "a", "type": "nominal", "scale": {"domain": ["SAC (Minimal)", "MDPO-Tsallis (Minimal)", "MDPO (Minimal)"], "range": ["#4c72b0", "#8172b2", "#c44e52"]}, "legend": {"title": null, "orient": "none", "legendX": 150, "legendY": 559, "direction": "horizontal"}}}}
]
},
{
"spacing": 93,
"bounds": "flush",
"hconcat": [
{
"width": 240, "height": 178,
"title": {"text": "(e) Humanoid-v2", "dx": 5},
"transform": [{"filter": "datum.p == 'e'"}],
"encoding": {"x": {"field": "t", "type": "quantitative", "scale": {"domain": [-0.15, 3.15], "nice": false, "zero": false}, "axis": {"title": "Timesteps", "values": [0, 0.5, 1.0, 1.5, 2.0, 2.5, 3.0], "format": ".1f"}}},
"layer": [
{"mark": {"type": "area", "interpolate": "monotone", "fillOpacity": 0.2, "clip": true},
 "encoding": {"y": {"field": "l", "type": "quantitative", "scale": {"domain": [-28, 4893], "nice": false, "zero": false}, "axis": {"title": null, "values": [0, 1000, 2000, 3000, 4000], "format": "d"}}, "y2": {"field": "h"}, "fill": {"field": "a", "type": "nominal", "scale": {"range": ["#c44e52", "#8172b2", "#4c72b0"]}, "legend": null}}},
{"mark": {"type": "line", "interpolate": "monotone", "strokeWidth": 2.2, "clip": true},
 "encoding": {"y": {"field": "m", "type": "quantitative", "axis": {"title": null, "values": [0, 1000, 2000, 3000, 4000], "format": "d"}}, "color": {"field": "a", "type": "nominal", "scale": {"domain": ["SAC (Minimal)", "MDPO-Tsallis (Minimal)", "MDPO (Minimal)"], "range": ["#4c72b0", "#8172b2", "#c44e52"]}, "legend": {"title": null, "orient": "none", "legendX": 150, "legendY": 559, "direction": "horizontal"}}}}
]
},
{
"width": 237, "height": 178,
"title": {"text": "(f) HumanoidStandup-v2", "dx": 15},
"transform": [{"filter": "datum.p == 'f'"}],
"encoding": {"x": {"field": "t", "type": "quantitative", "scale": {"domain": [-0.05, 1.05], "nice": false, "zero": false}, "axis": {"title": "Timesteps", "values": [0, 0.2, 0.4, 0.6, 0.8, 1.0], "format": ".1f"}}},
"layer": [
{"mark": {"type": "area", "interpolate": "monotone", "fillOpacity": 0.2, "clip": true},
 "encoding": {"y": {"field": "l", "type": "quantitative", "scale": {"domain": [28700, 153900], "nice": false, "zero": false}, "axis": {"title": null, "values": [40000, 60000, 80000, 100000, 120000, 140000], "format": "d"}}, "y2": {"field": "h"}, "fill": {"field": "a", "type": "nominal", "scale": {"range": ["#c44e52", "#8172b2", "#4c72b0"]}, "legend": null}}},
{"mark": {"type": "line", "interpolate": "monotone", "strokeWidth": 2.2, "clip": true},
 "encoding": {"y": {"field": "m", "type": "quantitative", "axis": {"title": null, "values": [40000, 60000, 80000, 100000, 120000, 140000], "format": "d"}}, "color": {"field": "a", "type": "nominal", "scale": {"domain": ["SAC (Minimal)", "MDPO-Tsallis (Minimal)", "MDPO (Minimal)"], "range": ["#4c72b0", "#8172b2", "#c44e52"]}, "legend": {"title": null, "orient": "none", "legendX": 150, "legendY": 559, "direction": "horizontal"}}}}
]
}
]
}
]
}
],
"config": {
"font": "DejaVu Sans",
"view": {"stroke": "#d6d6d6", "strokeWidth": 1},
"axis": {"labelFont": "DejaVu Sans", "labelFontSize": 7.5, "labelColor": "#4d4d4d", "titleFont": "DejaVu Sans", "titleFontSize": 9, "titleFontWeight": "normal", "titleColor": "#333333", "grid": true, "gridColor": "#e4e4e4", "gridWidth": 1, "domain": false, "ticks": false, "labelPadding": 5, "titlePadding": 3, "labelOverlap": false, "labelFlush": false},
"title": {"orient": "bottom", "anchor": "middle", "font": "Liberation Serif", "fontSize": 17.5, "fontWeight": "normal", "color": "#000000", "offset": 18, "baseline": "top"},
"legend": {"symbolType": "M-3.3,0H3.3", "symbolStrokeWidth": 3.5, "symbolSize": 100, "symbolOffset": 11.5, "labelFont": "DejaVu Sans", "labelFontSize": 14, "labelColor": "#262626", "columnPadding": 20, "labelOffset": 21.5, "padding": 9, "gridAlign": "none", "fillColor": "#eaeaf2", "strokeColor": "#cccccc", "cornerRadius": 3}
}
}
